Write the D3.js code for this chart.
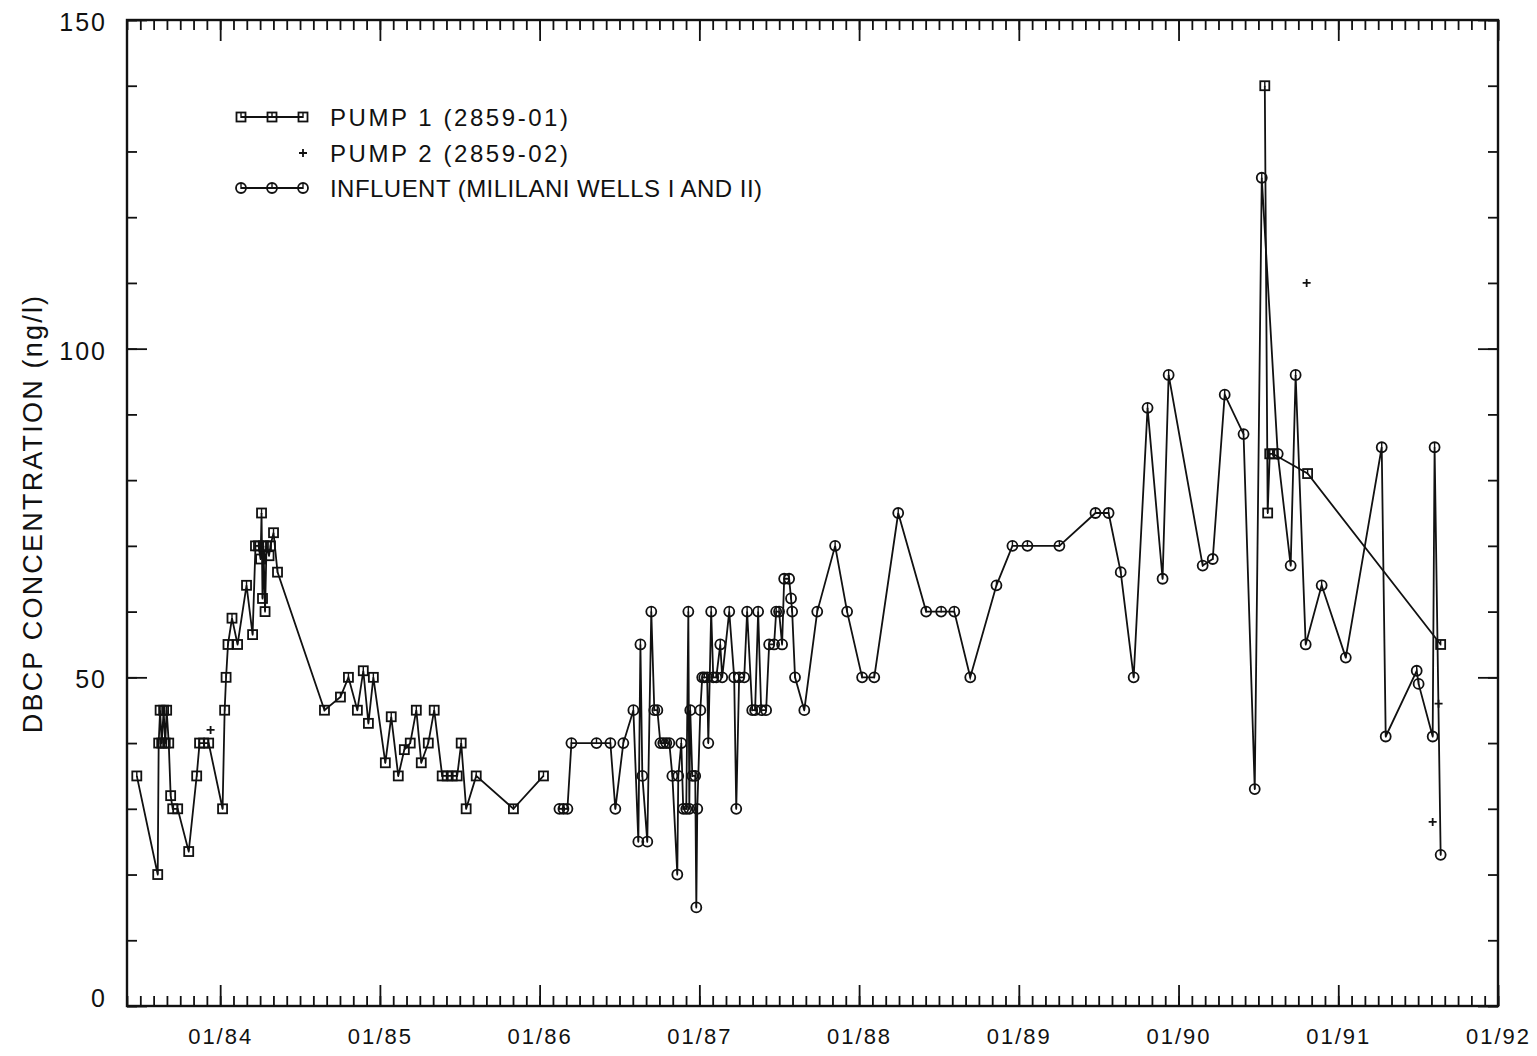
<!DOCTYPE html>
<html>
  <head>
    <title>DBCP</title>
    <script src="https://cdn.jsdelivr.net/npm/d3@7/dist/d3.min.js"></script>
    <style>
      body { margin: 0; background: #fff; }
      text { font-family: 'Liberation Sans', Arial, sans-serif; fill: #111; }
    </style>
  </head>
  <body>
    <svg width="1537" height="1056" id="mainsvg"></svg>
    <script>
      // sample dates as decimal years, concentrations in ng/l
      const pump1Time = [
        1983.478, 1983.609, 1983.615, 1983.624, 1983.634, 1983.646, 1983.656, 1983.665, 1983.678, 1983.690,
        1983.703, 1983.734, 1983.803, 1983.853, 1983.871, 1983.896, 1983.928, 1984.015, 1984.028, 1984.037,
        1984.049, 1984.074, 1984.109, 1984.165, 1984.203, 1984.221, 1984.240, 1984.253, 1984.259, 1984.265,
        1984.271, 1984.281, 1984.290, 1984.306, 1984.315, 1984.334, 1984.359, 1984.653, 1984.753, 1984.803,
        1984.859, 1984.896, 1984.928, 1984.959, 1985.034, 1985.071, 1985.115, 1985.153, 1985.190, 1985.228,
        1985.259, 1985.303, 1985.340, 1985.390, 1985.421, 1985.453, 1985.484, 1985.509, 1985.540, 1985.603,
        1985.836, 1986.024,
        null,
        1990.540, 1990.558, 1990.571, 1990.590, 1990.808, 1991.641
      ];
      const pump1Value = [
        35, 20, 40, 45, 40, 45, 40, 45, 40, 32,
        30, 30, 23.5, 35, 40, 40, 40, 30, 45, 50,
        55, 59, 55, 64, 56.5, 70, 70, 68, 75, 62,
        70, 60, 70, 68.5, 70, 72, 66, 45, 47, 50,
        45, 51, 43, 50, 37, 44, 35, 39, 40, 45,
        37, 40, 45, 35, 35, 35, 35, 40, 30, 35,
        30, 35,
        null,
        140, 75, 84, 84, 81, 55
      ];

      const pump2Time = [1983.940, 1990.802, 1991.591, 1991.628];
      const pump2Value = [42, 110, 28, 46];

      const influentTime = [
        1986.124, 1986.149, 1986.174, 1986.199, 1986.356, 1986.443, 1986.474, 1986.524, 1986.587, 1986.618,
        1986.631, 1986.643, 1986.674, 1986.699, 1986.718, 1986.737, 1986.756, 1986.774, 1986.793, 1986.812,
        1986.831, 1986.862, 1986.868, 1986.887, 1986.899, 1986.918, 1986.931, 1986.937, 1986.943, 1986.956,
        1986.974, 1986.981, 1986.987, 1987.006, 1987.018, 1987.031, 1987.049, 1987.056, 1987.074, 1987.087,
        1987.106, 1987.131, 1987.143, 1987.187, 1987.218, 1987.231, 1987.249, 1987.281, 1987.299, 1987.331,
        1987.349, 1987.368, 1987.387, 1987.418, 1987.437, 1987.468, 1987.481, 1987.499, 1987.518, 1987.531,
        1987.562, 1987.574, 1987.581, 1987.599, 1987.657, 1987.738, 1987.850, 1987.925, 1988.019, 1988.095,
        1988.245, 1988.420, 1988.514, 1988.596, 1988.696, 1988.860, 1988.960, 1989.054, 1989.254, 1989.480,
        1989.562, 1989.638, 1989.719, 1989.806, 1989.900, 1989.938, 1990.151, 1990.214, 1990.289, 1990.407,
        1990.477, 1990.521, 1990.621, 1990.702, 1990.733, 1990.796, 1990.896, 1991.047, 1991.272, 1991.297,
        1991.491, 1991.503, 1991.591, 1991.603, 1991.641
      ];
      const influentValue = [
        30, 30, 30, 40, 40, 40, 30, 40, 45, 25,
        55, 35, 25, 60, 45, 45, 40, 40, 40, 40,
        35, 20, 35, 40, 30, 30, 60, 30, 45, 35,
        35, 15, 30, 45, 50, 50, 50, 40, 60, 50,
        50, 55, 50, 60, 50, 30, 50, 50, 60, 45,
        45, 60, 45, 45, 55, 55, 60, 60, 55, 65,
        65, 62, 60, 50, 45, 60, 70, 60, 50, 50,
        75, 60, 60, 60, 50, 64, 70, 70, 70, 75,
        75, 66, 50, 91, 65, 96, 67, 68, 93, 87,
        33, 126, 84, 67, 96, 55, 64, 53, 85, 41,
        51, 49, 41, 85, 23
      ];

      const xTickYears = [1984, 1985, 1986, 1987, 1988, 1989, 1990, 1991, 1992];
      const xTickLabels = ['01/84', '01/85', '01/86', '01/87', '01/88', '01/89', '01/90', '01/91', '01/92'];
      const yTickValues = [0, 50, 100, 150];
      const yTickLabels = ['0', '50', '100', '150'];
      const legendLabels = ['PUMP 1 (2859-01)', 'PUMP 2 (2859-02)', 'INFLUENT (MILILANI WELLS I AND II)'];

      const svg = d3.select('#mainsvg');
      const frame = {left: 127, right: 1498, top: 20, bottom: 1006};
      const tStart = 1983 + 5 / 12;

      const xScale = d3.scaleLinear().domain([tStart, 1992]).range([frame.left, frame.right]);
      const yScale = d3.scaleLinear().domain([0, 150]).range([frame.bottom, frame.top]);

      const months = d3.range(0, 104).map(k => tStart + k / 12);
      const yMinor = d3.range(0, 151, 10);

      // axes: all ticks point inward
      const styleAxis = (g) => {
        g.select('.domain').remove();
        g.selectAll('line').attr('stroke', '#111').attr('stroke-width', 1.8);
      };

      svg.append('g').attr('transform', `translate(0,${frame.bottom})`)
        .call(d3.axisBottom(xScale).tickValues(months).tickSize(-10).tickFormat(() => ''))
        .call(styleAxis);
      const xMajor = svg.append('g').attr('transform', `translate(0,${frame.bottom})`)
        .call(d3.axisBottom(xScale).tickValues(xTickYears).tickSize(-21).tickPadding(22)
          .tickFormat((d, i) => xTickLabels[i]))
        .call(styleAxis);

      svg.append('g').attr('transform', `translate(0,${frame.top})`)
        .call(d3.axisTop(xScale).tickValues(months).tickSize(-10).tickFormat(() => ''))
        .call(styleAxis);
      svg.append('g').attr('transform', `translate(0,${frame.top})`)
        .call(d3.axisTop(xScale).tickValues(xTickYears).tickSize(-21).tickFormat(() => ''))
        .call(styleAxis);

      svg.append('g').attr('transform', `translate(${frame.left},0)`)
        .call(d3.axisLeft(yScale).tickValues(yMinor).tickSize(-10).tickFormat(() => ''))
        .call(styleAxis);
      const yMajorG = svg.append('g').attr('transform', `translate(${frame.left},0)`)
        .call(d3.axisLeft(yScale).tickValues(yTickValues).tickSize(-20).tickPadding(20)
          .tickFormat((d, i) => yTickLabels[i]))
        .call(styleAxis);

      svg.append('g').attr('transform', `translate(${frame.right},0)`)
        .call(d3.axisRight(yScale).tickValues(yMinor).tickSize(-10).tickFormat(() => ''))
        .call(styleAxis);
      svg.append('g').attr('transform', `translate(${frame.right},0)`)
        .call(d3.axisRight(yScale).tickValues(yTickValues).tickSize(-20).tickFormat(() => ''))
        .call(styleAxis);

      xMajor.selectAll('text').attr('font-size', 22).attr('letter-spacing', 2)
        .attr('font-family', "'Liberation Sans', Arial, sans-serif").attr('fill', '#111');
      // the zero label sits a little above its tick in the original
      yMajorG.selectAll('text').attr('font-size', 25).attr('letter-spacing', 2)
        .attr('font-family', "'Liberation Sans', Arial, sans-serif").attr('fill', '#111')
        .attr('dy', d => d === 0 ? '0.02em' : '0.42em');

      // frame
      svg.append('rect')
        .attr('x', frame.left).attr('y', frame.top)
        .attr('width', frame.right - frame.left).attr('height', frame.bottom - frame.top)
        .attr('fill', 'none').attr('stroke', '#111').attr('stroke-width', 2.4);

      // y title
      svg.append('text')
        .attr('transform', `translate(42,${(292 + 735) / 2}) rotate(-90)`)
        .attr('text-anchor', 'middle')
        .attr('font-size', 27)
        .attr('letter-spacing', 2.2)
        .text('DBCP CONCENTRATION (ng/l)');

      const zip = (ts, vs) => ts.map((t, i) => ({t: t, v: vs[i]}));
      const pump1 = zip(pump1Time, pump1Value);
      const pump2 = zip(pump2Time, pump2Value);
      const influent = zip(influentTime, influentValue);

      const line = d3.line()
        .defined(d => d.t !== null)
        .x(d => xScale(d.t))
        .y(d => yScale(d.v));

      const plot = svg.append('g');

      plot.append('path').datum(influent).attr('d', line)
        .attr('fill', 'none').attr('stroke', '#111').attr('stroke-width', 1.8);
      plot.append('path').datum(pump1).attr('d', line)
        .attr('fill', 'none').attr('stroke', '#111').attr('stroke-width', 1.8);

      const drawSquare = (g, x, y) => {
        g.append('rect').attr('x', x - 4.5).attr('y', y - 4.5).attr('width', 9).attr('height', 9)
          .attr('fill', 'none').attr('stroke', '#111').attr('stroke-width', 1.8);
        g.append('line').attr('x1', x).attr('x2', x).attr('y1', y - 4.5).attr('y2', y + 1)
          .attr('stroke', '#111').attr('stroke-width', 1.4);
      };
      const drawCircle = (g, x, y) => {
        g.append('circle').attr('cx', x).attr('cy', y).attr('r', 5)
          .attr('fill', 'none').attr('stroke', '#111').attr('stroke-width', 1.8);
        g.append('line').attr('x1', x).attr('x2', x).attr('y1', y - 5).attr('y2', y + 1)
          .attr('stroke', '#111').attr('stroke-width', 1.4);
      };
      const drawPlus = (g, x, y) => {
        g.append('path').attr('d', `M${x - 4},${y}H${x + 4}M${x},${y - 4}V${y + 4}`)
          .attr('stroke', '#111').attr('stroke-width', 1.8);
      };

      pump1.filter(d => d.t !== null).forEach(d => drawSquare(plot, xScale(d.t), yScale(d.v)));
      influent.forEach(d => drawCircle(plot, xScale(d.t), yScale(d.v)));
      pump2.forEach(d => drawPlus(plot, xScale(d.t), yScale(d.v)));

      // legend
      const legend = svg.append('g');
      const legendRows = [117, 153, 188];
      const legendMarks = [241, 272, 303];
      const legendWidths = [238, 238, 432];
      [0, 2].forEach(r => {
        legend.append('line')
          .attr('x1', legendMarks[0]).attr('x2', legendMarks[2])
          .attr('y1', legendRows[r]).attr('y2', legendRows[r])
          .attr('stroke', '#111').attr('stroke-width', 1.8);
        legendMarks.forEach(x => (r === 0 ? drawSquare : drawCircle)(legend, x, legendRows[r]));
      });
      drawPlus(legend, legendMarks[2], legendRows[1]);
      legend.selectAll('text.lbl')
        .data(legendLabels)
        .enter()
        .append('text')
        .attr('class', 'lbl')
        .attr('x', 330)
        .attr('y', (d, i) => legendRows[i] + 9)
        .attr('font-size', 24)
        .attr('textLength', (d, i) => legendWidths[i])
        .attr('lengthAdjust', 'spacing')
        .text(d => d);
    </script>
  </body>
</html>
